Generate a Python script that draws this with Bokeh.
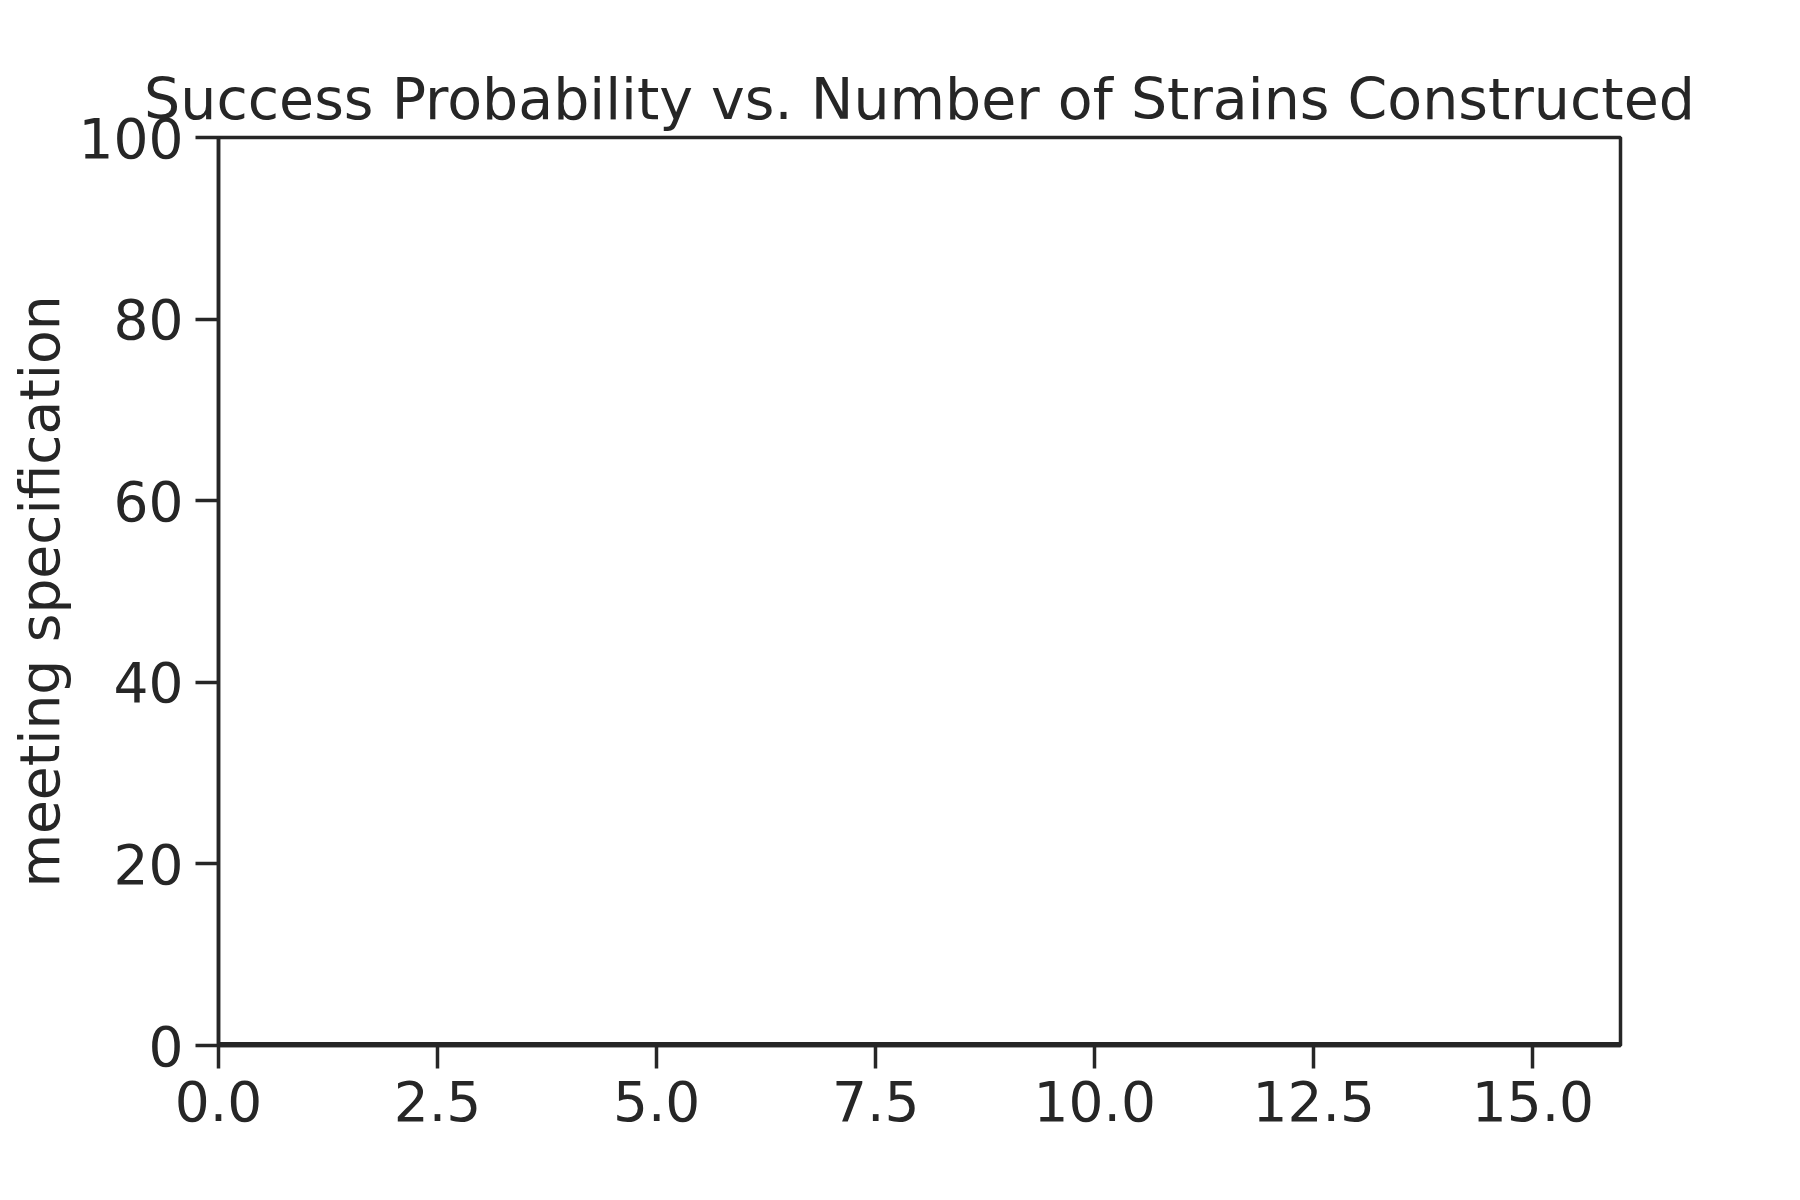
from bokeh.plotting import figure
from bokeh.models import Range1d, FixedTicker, NumeralTickFormatter, Label
from bokeh.embed import file_html
from bokeh.resources import INLINE

strains = [0, 1, 2, 3, 4, 5, 6, 7, 8, 9, 10, 11, 12, 13, 14, 15, 16]
success = [0, 0, 0, 0, 0, 0, 0, 0, 0, 0, 0, 0, 0, 0, 0, 0, 0]
x_ticks = [0, 2.5, 5, 7.5, 10, 12.5, 15]
y_ticks = [0, 20, 40, 60, 80, 100]
x_label = "Number of Recommended Strains Constructed"

C = "#262626"
F = "DejaVu Sans"
p = figure(frame_width=1402, frame_height=908, output_backend="svg", toolbar_location=None,
           x_range=Range1d(0, 16), y_range=Range1d(0, 100),
           min_border_left=218, min_border_right=164, min_border_top=137, min_border_bottom=139,
           title="Success Probability vs. Number of Strains Constructed")
p.title.align = "center"
p.title.text_font = F
p.title.text_font_size = "57px"
p.title.text_font_style = "normal"
p.title.text_color = C
p.title.standoff = 12
p.grid.visible = False
p.outline_line_color = C
p.outline_line_width = 3.5
p.background_fill_color = "white"
p.border_fill_color = "white"

p.line(strains, success, line_width=7, line_color=C)

for ax in (p.xaxis[0], p.yaxis[0]):
    ax.axis_line_color = C
    ax.axis_line_width = 3.5
    ax.major_tick_line_color = C
    ax.major_tick_line_width = 3.5
    ax.major_tick_out = 23
    ax.major_tick_in = 0
    ax.minor_tick_line_color = None
    ax.major_label_text_font = F
    ax.major_label_text_font_size = "55px"
    ax.major_label_text_color = C
    ax.axis_label_text_font = F
    ax.axis_label_text_font_size = "55px"
    ax.axis_label_text_font_style = "normal"
    ax.axis_label_text_color = C
    ax.major_label_standoff = 12

p.xaxis.ticker = FixedTicker(ticks=x_ticks)
p.xaxis.formatter = NumeralTickFormatter(format="0.0")
p.yaxis.ticker = FixedTicker(ticks=y_ticks)
p.yaxis.axis_label = "meeting specification"
p.yaxis.axis_label_standoff = 4

p.add_layout(Label(x=8, y=-14.8, text=x_label, text_align="center", text_baseline="top",
                   text_font=F, text_font_size="55px", text_color=C))

open("out.html", "w").write(file_html(p, INLINE))
